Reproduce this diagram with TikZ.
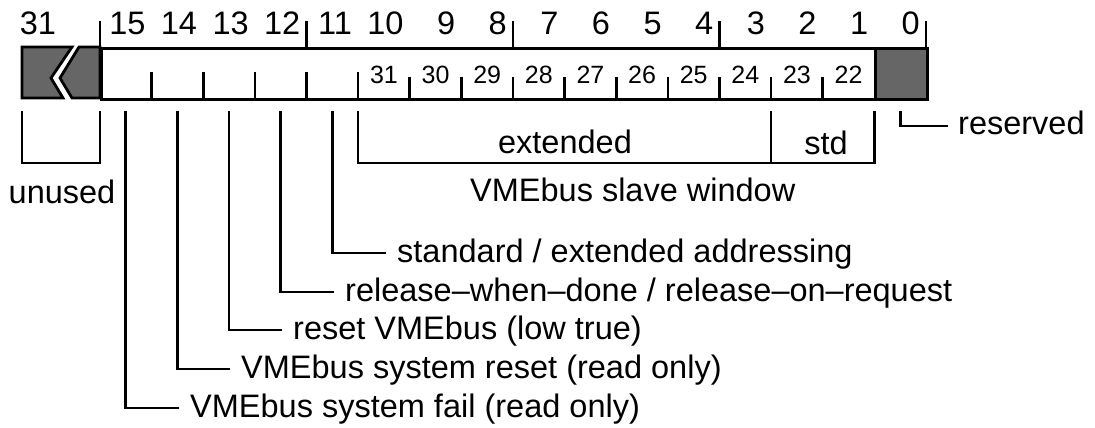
\documentclass[tikz,border=0pt]{standalone}
\usepackage{fontspec}
\setmainfont{Liberation Sans}
\begin{document}
\begin{tikzpicture}[x=1pt,y=-1pt,
  lbl/.style={font=\fontsize{32.5}{39}\selectfont, inner sep=0pt},
  sml/.style={font=\fontsize{25}{30}\selectfont, inner sep=0pt},
  wire/.style={line width=2.7pt},
  frame/.style={line width=3pt},
  shade/.style={fill=black!60, draw=black, line width=2.8pt, line join=miter}]
\useasboundingbox (0,0) rectangle (1095,428);
\def\cw{51.625}
% register body
\node[draw, frame, minimum width=774pt, minimum height=51pt, inner sep=0pt, anchor=north west] (reg) at (100,47) {};
\node[shade, minimum width=52pt, minimum height=51pt, inner sep=0pt, anchor=north west] (rsv) at (874,47) {};
% broken (unused) bits 31..16
\filldraw[shade] (22,47) -- (72,47) -- (51,78) -- (63,98) -- (22,98) -- cycle;
\filldraw[shade] (79,47) -- (100,47) -- (100,98) -- (72,98) -- (60,78) -- cycle;
% top bit numbers
\node[lbl, anchor=base] (t31) at (38,35) {31};
\foreach \n in {0,...,15}{
  \node[lbl, anchor=base east] (t\n) at ({100+(16-\n)*\cw-6},35) {\n};
  \coordinate (s\n) at ({100+(15.5-\n)*\cw},111);
}
% top nibble ticks
\foreach \k in {0,4,8,12,16}
  \draw[wire] ({100+\k*\cw},21) -- ({100+\k*\cw},47);
% inner ticks
\foreach \k in {1,...,5}
  \draw[wire] ({100+\k*\cw},72) -- ({100+\k*\cw},98);
\foreach \k in {6,...,14}
  \draw[wire] ({100+\k*\cw},77) -- ({100+\k*\cw},98);
% address bit numbers 31..22
\foreach \n in {1,...,10}{
  \pgfmathtruncatemacro{\a}{\n+21}
  \node[sml, anchor=base] (a\a) at ({100+(15.5-\n)*\cw},83) {\a};
}
% unused bracket
\coordinate (u1) at (22,111);
\coordinate (u2) at (100,111);
\draw[wire] (u1) |- (100,163) -- (u2);
\node[lbl, anchor=base] (unused) at (62,203) {unused};
% slave window brackets
\coordinate (e1) at ({100+5*\cw},111);
\coordinate (e2) at ({100+13*\cw},111);
\coordinate (e3) at ({100+15*\cw},111);
\draw[wire] (e1) |- ({100+13*\cw},163) -- (e2);
\draw[wire] ({100+13*\cw},163) -| (e3);
\node[lbl, anchor=base] (ext) at (565,153) {extended};
\node[lbl, anchor=base] (std) at (826,154) {std};
\node[lbl, anchor=base west] (win) at (470,201) {VMEbus slave window};
% reserved
\node[lbl, anchor=base west] (res) at (958,134) {reserved};
\draw[wire] (s0) |- ([xshift=-10pt,yshift=8pt]res.base west);
% control bits
\node[lbl, anchor=base west] (l11) at (397,262) {standard / extended addressing};
\node[lbl, anchor=base west] (l12) at (345,301) {release--when--done / release--on--request};
\node[lbl, anchor=base west] (l13) at (293,339) {reset VMEbus (low true)};
\node[lbl, anchor=base west] (l14) at (241,378) {VMEbus system reset (read only)};
\node[lbl, anchor=base west] (l15) at (190,417) {VMEbus system fail (read only)};
\foreach \n in {11,...,15}
  \draw[wire] (s\n) |- ([xshift=-11pt,yshift=9pt]l\n.base west);
\end{tikzpicture}
\end{document}
